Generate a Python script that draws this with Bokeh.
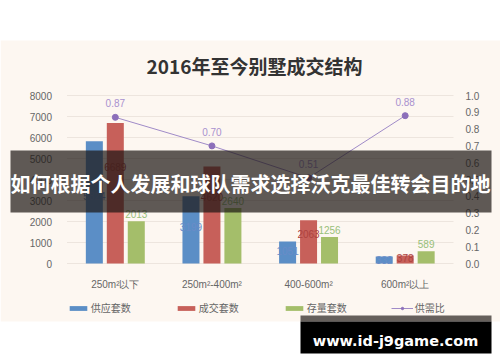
from bokeh.plotting import figure
from bokeh.models import (Range1d, LinearAxis, FixedTicker, NumeralTickFormatter,
                          ColumnDataSource, BoxAnnotation, Label, Legend, LegendItem)
from bokeh.core.properties import value
from bokeh.embed import file_html
from bokeh.resources import INLINE

# ---- data ----
categories = ["250m²以下", "250m²-400m²", "400-600m²", "600m²以上"]
supply = [5824, 3199, 1051, 332]
deals = [6689, 4620, 2063, 378]
stock = [2013, 2640, 1256, 589]
ratio = [0.87, 0.70, 0.51, 0.88]
series_names = ["供应套数", "成交套数", "存量套数", "供需比"]
left_ticks = [0, 1000, 2000, 3000, 4000, 5000, 6000, 7000, 8000]
right_ticks = [0.0, 0.1, 0.2, 0.3, 0.4, 0.5, 0.6, 0.7, 0.8, 0.9, 1.0]
title_text = "2016年至今别墅成交结构"
banner_text = "如何根据个人发展和球队需求选择沃克最佳转会目的地"
watermark_text = "www.id-j9game.com"

# ---- layout (pixels) ----
W, H = 500, 362
PL, PR, PT, PB = 66.5, 453.0, 95.0, 263.0   # plotting area inside the canvas
n = len(categories)
unit = (PR - PL) / n
ymax_l, ymax_r = left_ticks[-1], right_ticks[-1]
sy_l = ymax_l / (PB - PT)
sy_r = ymax_r / (PB - PT)

# ---- styles ----
CREAM = "#FDF7F1"
BLUE, RED, GREEN = "#5b8ec6", "#c7605a", "#a4be6a"
BLUE_T, RED_T, GREEN_T = "#6a8cc8", "#ad423e", "#98c07a"
PURPLE_L, PURPLE_M, PURPLE_T = "#a08bc8", "#8c6fba", "#a991cf"
AXIS_T = "#666666"
LATIN = "Liberation Sans"
CJK = "Noto Sans CJK SC"

xs = [i + 0.5 for i in range(n)]
off, bw = 0.217, 0.176
src = ColumnDataSource(dict(
    x=xs,
    xb=[x - off for x in xs], xr=xs, xg=[x + off for x in xs],
    supply=supply, deals=deals, stock=stock, ratio=ratio,
    supply_lbl=[str(v) for v in supply],
    deals_lbl=[str(v) for v in deals],
    stock_lbl=[str(v) for v in stock],
    ratio_lbl=[f"{v:.2f}" for v in ratio],
    supply_y=[v * 0.55 for v in supply],
    deals_y=[v * 0.69 for v in deals],
))

p = figure(width=W, height=H,
           x_range=Range1d(-PL / unit, n + (W - PR) / unit),
           y_range=Range1d(-(H - PB) * sy_l, ymax_l + PT * sy_l),
           output_backend="svg", toolbar_location=None,
           min_border=0, min_border_left=0, min_border_right=0,
           min_border_top=0, min_border_bottom=0,
           border_fill_color="white", background_fill_color="white",
           outline_line_color=None, x_axis_type=None, y_axis_type=None)
p.extra_y_ranges = {"ratio": Range1d(-(H - PB) * sy_r, ymax_r + PT * sy_r)}
p.xgrid.visible = False
p.ygrid.visible = False

# cream card background
p.add_layout(BoxAnnotation(left=0, right=W, top=40, bottom=321,
                           left_units="canvas", right_units="canvas",
                           top_units="canvas", bottom_units="canvas",
                           fill_color=CREAM, fill_alpha=1, line_color=None, level="image"))

# grid lines (within plotting area)
p.segment(x0=[0] * len(left_ticks), x1=[n] * len(left_ticks), y0=left_ticks, y1=left_ticks,
          line_color="#ede5de", line_width=1, level="underlay")

# title
p.add_layout(Label(x=254, y=65, x_units="canvas", y_units="canvas", text=title_text,
                   text_align="center", text_baseline="middle", text_font_size="19px",
                   text_font_style="bold", text_color="#333333", text_font=CJK))

# axes with fixed locations
def style_axis(ax):
    ax.axis_line_color = None
    ax.major_tick_line_color = None
    ax.minor_tick_line_color = None
    ax.major_label_text_font_size = "10px"
    ax.major_label_text_color = AXIS_T
    ax.major_label_text_font = LATIN

lax = LinearAxis(ticker=FixedTicker(ticks=left_ticks), formatter=NumeralTickFormatter(format="0"),
                 fixed_location=0, major_label_standoff=9)
style_axis(lax)
p.add_layout(lax, "left")

rax = LinearAxis(y_range_name="ratio", ticker=FixedTicker(ticks=right_ticks),
                 formatter=NumeralTickFormatter(format="0.0"), fixed_location=n,
                 major_label_standoff=6)
style_axis(rax)
p.add_layout(rax, "right")

bax = LinearAxis(ticker=FixedTicker(ticks=xs),
                 major_label_overrides={x: c for x, c in zip(xs, categories)},
                 fixed_location=0, major_label_standoff=9)
style_axis(bax)
p.add_layout(bax, "below")

# bars
r1 = p.vbar(x="xb", top="supply", width=bw, source=src, fill_color=BLUE, line_color=None)
r2 = p.vbar(x="xr", top="deals", width=bw, source=src, fill_color=RED, line_color=None)
r3 = p.vbar(x="xg", top="stock", width=bw, source=src, fill_color=GREEN, line_color=None)

txt = dict(text_align="center", text_baseline="middle", text_font_size="10px",
           text_font=value(LATIN), source=src)
p.text(x="xb", y="supply_y", text="supply_lbl", text_color=BLUE_T, **txt)
p.text(x="xr", y="deals_y", text="deals_lbl", text_color=RED_T, **txt)
p.text(x="xg", y="stock", text="stock_lbl", y_offset=-7, text_color=GREEN_T, **txt)

# ratio line
rl = p.line(x="x", y="ratio", source=src, y_range_name="ratio", line_color=PURPLE_L, line_width=1)
rs = p.scatter(x="x", y="ratio", source=src, y_range_name="ratio", size=6,
               fill_color=PURPLE_M, line_color=PURPLE_M)
p.text(x="x", y="ratio", text="ratio_lbl", y_range_name="ratio", y_offset=-14,
       text_color=PURPLE_T, **txt)

legend = Legend(items=[LegendItem(label=series_names[0], renderers=[r1]),
                       LegendItem(label=series_names[1], renderers=[r2]),
                       LegendItem(label=series_names[2], renderers=[r3]),
                       LegendItem(label=series_names[3], renderers=[rl, rs])],
                orientation="horizontal", location=(66.8, H - 315),
                glyph_width=22, glyph_height=6, label_standoff=2, label_width=40,
                label_height=14, spacing=44, padding=0, margin=0,
                border_line_color=None, background_fill_alpha=0,
                label_text_font_size="10px", label_text_color=AXIS_T,
                label_text_font=CJK)
p.add_layout(legend)

# overlay banner
p.add_layout(BoxAnnotation(left=10, right=491, top=150, bottom=212,
                           left_units="canvas", right_units="canvas",
                           top_units="canvas", bottom_units="canvas",
                           fill_color="#1b1613", fill_alpha=0.7, line_color=None, level="overlay"))
p.add_layout(Label(x=250, y=183, x_units="canvas", y_units="canvas", text=banner_text,
                   text_align="center", text_baseline="middle", text_font_size="20px",
                   text_font_style="bold", text_color="white", text_font=CJK,
                   level="overlay"))

# watermark
p.add_layout(BoxAnnotation(left=300, right=491, top=315, bottom=321,
                           left_units="canvas", right_units="canvas",
                           top_units="canvas", bottom_units="canvas",
                           fill_color="#66605c", fill_alpha=1, line_color=None, level="overlay"))
p.add_layout(BoxAnnotation(left=300, right=491, top=321, bottom=353,
                           left_units="canvas", right_units="canvas",
                           top_units="canvas", bottom_units="canvas",
                           fill_color="black", fill_alpha=1, line_color=None, level="overlay"))
p.add_layout(Label(x=395, y=340, x_units="canvas", y_units="canvas", text=watermark_text,
                   text_align="center", text_baseline="alphabetic", text_font_size="14.5px",
                   text_font_style="bold", text_color="white", text_font="DejaVu Sans",
                   level="overlay"))

open("out.html", "w").write(file_html(p, INLINE))
